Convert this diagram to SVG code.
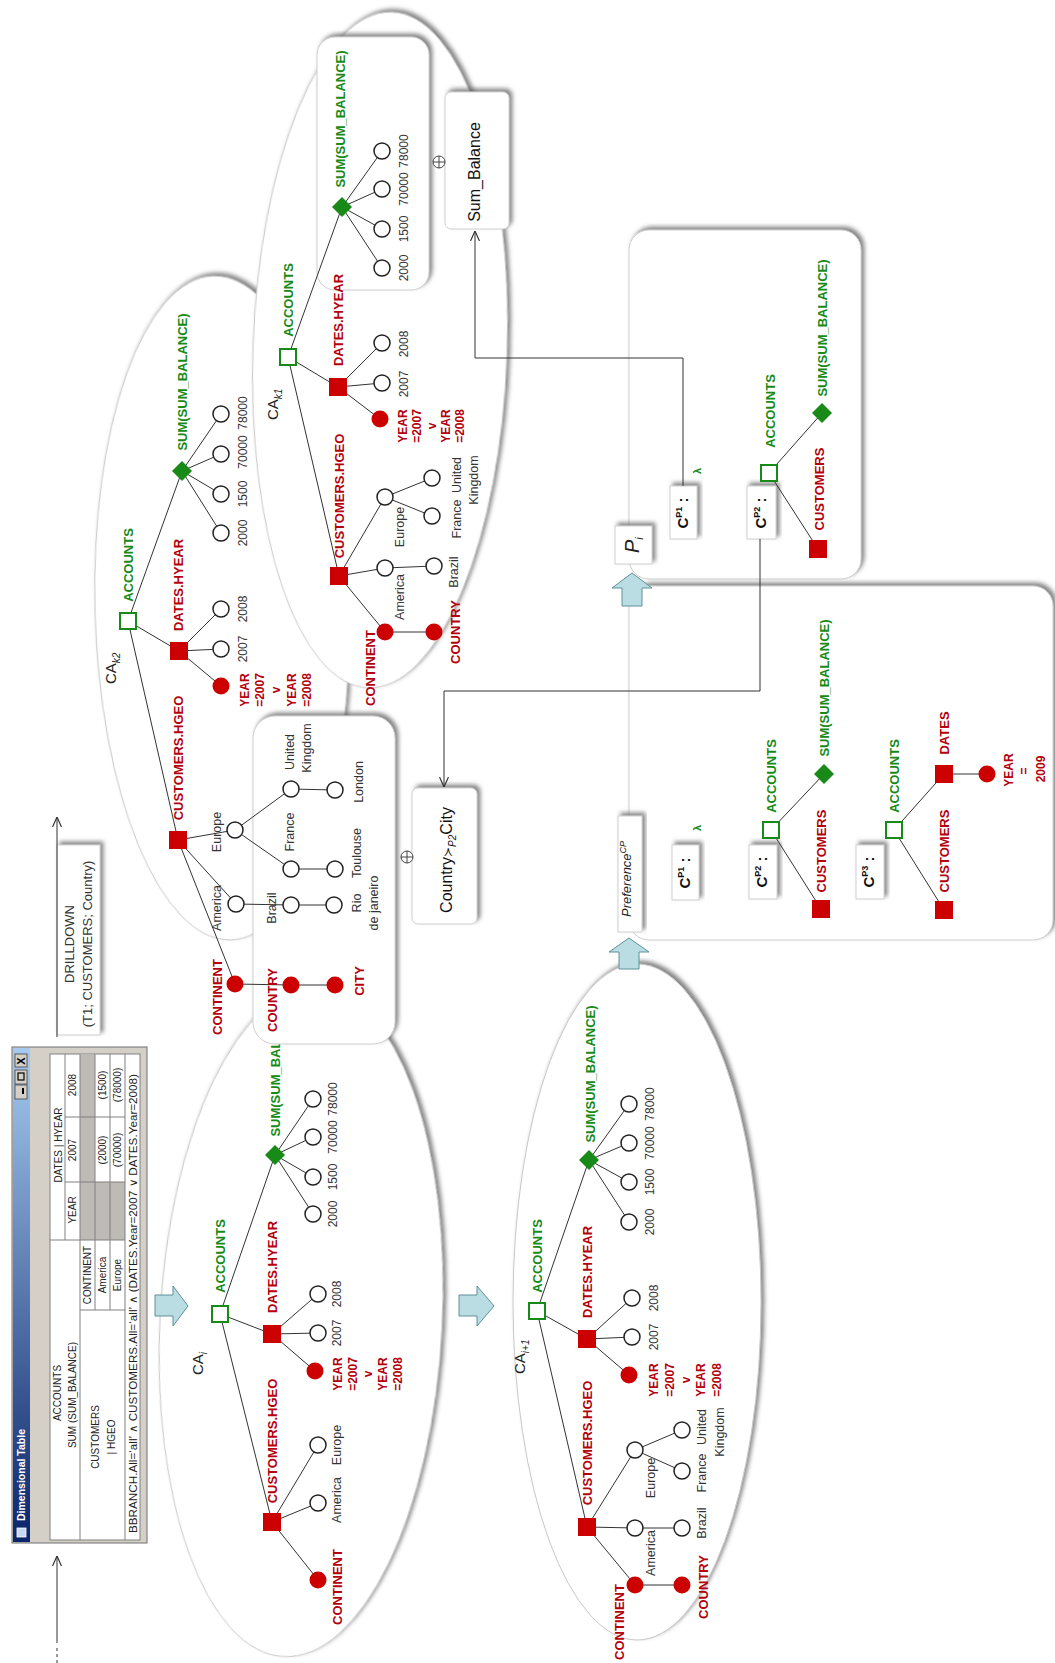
<svg xmlns="http://www.w3.org/2000/svg" width="1055" height="1663" viewBox="0 0 1055 1663">
<defs>
<style>
text{font-family:"Liberation Sans",Arial,sans-serif}
.b{font-weight:bold;font-size:13px;text-anchor:middle}
.g{fill:#178a17}
.r{fill:#b3000c}
.v{font-size:12px;fill:#333;text-anchor:middle}
.p{font-size:12.5px;fill:#333;text-anchor:middle}
.y{font-weight:bold;font-size:12px;fill:#b3000c;text-anchor:middle}
.ca{font-size:15px;fill:#222}
.sb{font-size:10px;font-style:italic}
.e{stroke:#333;stroke-width:1;fill:none}
.el{fill:#fff;stroke:#c8c8c8;stroke-width:1}
.bx{fill:#fff;stroke:#cfcfcf;stroke-width:1}
.cp{font-weight:bold;font-size:15px;fill:#111;text-anchor:middle}
.cn{stroke:#333;stroke-width:1;fill:none}
.ba{fill:#b9dde2;stroke:#5f9098;stroke-width:1}
.t{font-size:10px;fill:#222;text-anchor:middle}
.tl{stroke:#808080;stroke-width:1;fill:none}
.big{font-size:16px;fill:#111;text-anchor:middle}
</style>
<filter id="sh" x="-20%" y="-20%" width="140%" height="140%">
<feGaussianBlur in="SourceAlpha" stdDeviation="2"/>
<feOffset dx="3" dy="-3" result="o"/>
<feFlood flood-color="#606060" flood-opacity="0.75"/>
<feComposite in2="o" operator="in"/>
<feMerge><feMergeNode/><feMergeNode in="SourceGraphic"/></feMerge>
</filter>
<linearGradient id="tb" gradientUnits="userSpaceOnUse" x1="0" y1="1542" x2="0" y2="1048">
<stop offset="0" stop-color="#0a246a"/><stop offset="1" stop-color="#a6caf0"/>
</linearGradient>
<marker id="ar" viewBox="0 0 10 10" refX="10" refY="5" markerWidth="10" markerHeight="10" markerUnits="userSpaceOnUse" orient="auto"><path d="M0 0.5 L10 5 L0 9.5" fill="none" stroke="#333" stroke-width="1.2"/></marker>
<rect id="sa" x="-8" y="-8" width="16" height="16" fill="#fff" stroke="#178a17" stroke-width="2"/>
<rect id="sr" x="-9" y="-9" width="18" height="18" fill="#cc0000"/>
<path id="dm" d="M0 -10 L10 0 L0 10 L-10 0Z" fill="#178a17"/>
<circle id="cw" r="8" fill="#fff" stroke="#222" stroke-width="1.5"/>
<circle id="cr" r="8.5" fill="#cc0000"/>
</defs>
<rect width="1055" height="1663" fill="#fff"/>

<!-- CA_i -->
<g id="ca-i">
<ellipse cx="301" cy="1322" rx="141" ry="335" transform="rotate(3 301 1322)" class="el" filter="url(#sh)"/>
<text class="ca" transform="translate(203,1375) rotate(-90)">CA<tspan class="sb" dy="4">i</tspan></text>
<path class="e" d="M220 1314L272 1334M220 1314L272 1522M220 1314L275 1155M272 1334L315 1371M272 1334L318 1333M272 1334L318 1294M275 1155L313 1214M275 1155L313 1177M275 1155L313 1137M275 1155L313 1099M272 1522L318 1580M272 1522L318 1503M272 1522L318 1445"/>
<use href="#sa" x="220" y="1314"/><use href="#sr" x="272" y="1334"/><use href="#sr" x="272" y="1522"/><use href="#dm" x="275" y="1155"/>
<use href="#cw" x="313" y="1214"/><use href="#cw" x="313" y="1177"/><use href="#cw" x="313" y="1137"/><use href="#cw" x="313" y="1099"/>
<use href="#cr" x="315" y="1371"/><use href="#cw" x="318" y="1333"/><use href="#cw" x="318" y="1294"/>
<use href="#cr" x="318" y="1580"/><use href="#cw" x="318" y="1503"/><use href="#cw" x="318" y="1445"/>
<text class="b g" transform="translate(225,1256) rotate(-90)">ACCOUNTS</text>
<text class="b r" transform="translate(277,1267) rotate(-90)">DATES.HYEAR</text>
<text class="b r" transform="translate(277,1441) rotate(-90)">CUSTOMERS.HGEO</text>
<text class="b g" transform="translate(280,1068) rotate(-90)">SUM(SUM_BALANCE)</text>
<text class="v" transform="translate(337,1214) rotate(-90)">2000</text>
<text class="v" transform="translate(337,1177) rotate(-90)">1500</text>
<text class="v" transform="translate(337,1137) rotate(-90)">70000</text>
<text class="v" transform="translate(337,1099) rotate(-90)">78000</text>
<text class="v" transform="translate(341,1333) rotate(-90)">2007</text>
<text class="v" transform="translate(341,1294) rotate(-90)">2008</text>
<text class="y" transform="translate(342,1374) rotate(-90)">YEAR</text>
<text class="y" transform="translate(357,1374) rotate(-90)">=2007</text>
<text class="y" transform="translate(372,1374) rotate(-90)">v</text>
<text class="y" transform="translate(387,1374) rotate(-90)">YEAR</text>
<text class="y" transform="translate(402,1374) rotate(-90)">=2008</text>
<text class="b r" transform="translate(342,1587) rotate(-90)">CONTINENT</text>
<text class="p" transform="translate(341,1500) rotate(-90)">America</text>
<text class="p" transform="translate(341,1445) rotate(-90)">Europe</text>
</g>

<!-- CA_i+1 -->
<g id="ca-i1">
<ellipse cx="637" cy="1302" rx="124" ry="338" class="el" filter="url(#sh)"/>
<text class="ca" transform="translate(525,1374) rotate(-90)">CA<tspan class="sb" dy="4">i+1</tspan></text>
<path class="e" d="M537 1311L587 1339M537 1311L587 1527M537 1311L589 1160M587 1339L629 1375M587 1339L632 1337M587 1339L632 1298M589 1160L629 1222M589 1160L629 1182M589 1160L629 1143M589 1160L629 1104M587 1527L635 1585M587 1527L635 1528M587 1527L635 1450M635 1585L682 1585M635 1528L682 1528M635 1450L682 1471M635 1450L682 1430"/>
<use href="#sa" x="537" y="1311"/><use href="#sr" x="587" y="1339"/><use href="#sr" x="587" y="1527"/><use href="#dm" x="589" y="1160"/>
<use href="#cw" x="629" y="1222"/><use href="#cw" x="629" y="1182"/><use href="#cw" x="629" y="1143"/><use href="#cw" x="629" y="1104"/>
<use href="#cr" x="629" y="1375"/><use href="#cw" x="632" y="1337"/><use href="#cw" x="632" y="1298"/>
<use href="#cr" x="635" y="1585"/><use href="#cr" x="682" y="1585"/><use href="#cw" x="635" y="1528"/><use href="#cw" x="682" y="1528"/>
<use href="#cw" x="635" y="1450"/><use href="#cw" x="682" y="1471"/><use href="#cw" x="682" y="1430"/>
<text class="b g" transform="translate(542,1256) rotate(-90)">ACCOUNTS</text>
<text class="b r" transform="translate(592,1272) rotate(-90)">DATES.HYEAR</text>
<text class="b r" transform="translate(592,1443) rotate(-90)">CUSTOMERS.HGEO</text>
<text class="b g" transform="translate(595,1074) rotate(-90)">SUM(SUM_BALANCE)</text>
<text class="v" transform="translate(654,1222) rotate(-90)">2000</text>
<text class="v" transform="translate(654,1182) rotate(-90)">1500</text>
<text class="v" transform="translate(654,1143) rotate(-90)">70000</text>
<text class="v" transform="translate(654,1104) rotate(-90)">78000</text>
<text class="v" transform="translate(658,1337) rotate(-90)">2007</text>
<text class="v" transform="translate(658,1298) rotate(-90)">2008</text>
<text class="y" transform="translate(658,1380) rotate(-90)">YEAR</text>
<text class="y" transform="translate(674,1380) rotate(-90)">=2007</text>
<text class="y" transform="translate(690,1380) rotate(-90)">v</text>
<text class="y" transform="translate(705,1380) rotate(-90)">YEAR</text>
<text class="y" transform="translate(721,1380) rotate(-90)">=2008</text>
<text class="b r" transform="translate(624,1622) rotate(-90)">CONTINENT</text>
<text class="b r" transform="translate(708,1587) rotate(-90)">COUNTRY</text>
<text class="p" transform="translate(655,1553) rotate(-90)">America</text>
<text class="p" transform="translate(655,1478) rotate(-90)">Europe</text>
<text class="p" transform="translate(706,1523) rotate(-90)">Brazil</text>
<text class="p" transform="translate(706,1473) rotate(-90)">France</text>
<text class="p" transform="translate(706,1427) rotate(-90)">United</text>
<text class="p" transform="translate(724,1432) rotate(-90)">Kingdom</text>
</g>

<!-- CA_k2 -->
<g id="ca-k2">
<ellipse cx="222" cy="608" rx="127" ry="332" transform="rotate(-1.5 222 608)" class="el" filter="url(#sh)"/>
<text class="ca" transform="translate(116,684) rotate(-90)">CA<tspan class="sb" dy="4">k2</tspan></text>
<path class="e" d="M128 621L179 651M128 621L178 840M128 621L182 471M179 651L221 686M179 651L221 649M179 651L221 609M182 471L221 533M182 471L221 494M182 471L221 454M182 471L221 414"/>
<rect id="drill-detail" x="253" y="716" width="142" height="328" rx="22" class="bx" filter="url(#sh)"/>
<path class="e" d="M178 840L235 984M178 840L236 904M178 840L235 830M235 984L291 985L335 985M236 904L291 905L334 905M235 830L291 869L335 869M235 830L291 789L335 790"/>
<use href="#sa" x="128" y="621"/><use href="#sr" x="179" y="651"/><use href="#sr" x="178" y="840"/><use href="#dm" x="182" y="471"/>
<use href="#cw" x="221" y="533"/><use href="#cw" x="221" y="494"/><use href="#cw" x="221" y="454"/><use href="#cw" x="221" y="414"/>
<use href="#cr" x="221" y="686"/><use href="#cw" x="221" y="649"/><use href="#cw" x="221" y="609"/>
<use href="#cr" x="235" y="984"/><use href="#cr" x="291" y="985"/><use href="#cr" x="335" y="985"/>
<use href="#cw" x="236" y="904"/><use href="#cw" x="291" y="905"/><use href="#cw" x="334" y="905"/>
<use href="#cw" x="235" y="830"/><use href="#cw" x="291" y="869"/><use href="#cw" x="335" y="869"/>
<use href="#cw" x="291" y="789"/><use href="#cw" x="335" y="790"/>
<text class="b g" transform="translate(133,565) rotate(-90)">ACCOUNTS</text>
<text class="b r" transform="translate(183,585) rotate(-90)">DATES.HYEAR</text>
<text class="b r" transform="translate(183,758) rotate(-90)">CUSTOMERS.HGEO</text>
<text class="b g" transform="translate(187,382) rotate(-90)">SUM(SUM_BALANCE)</text>
<text class="v" transform="translate(247,533) rotate(-90)">2000</text>
<text class="v" transform="translate(247,494) rotate(-90)">1500</text>
<text class="v" transform="translate(247,452) rotate(-90)">70000</text>
<text class="v" transform="translate(247,413) rotate(-90)">78000</text>
<text class="v" transform="translate(247,649) rotate(-90)">2007</text>
<text class="v" transform="translate(247,609) rotate(-90)">2008</text>
<text class="y" transform="translate(249,690) rotate(-90)">YEAR</text>
<text class="y" transform="translate(264,690) rotate(-90)">=2007</text>
<text class="y" transform="translate(280,690) rotate(-90)">v</text>
<text class="y" transform="translate(296,690) rotate(-90)">YEAR</text>
<text class="y" transform="translate(311,690) rotate(-90)">=2008</text>
<text class="b r" transform="translate(222,997) rotate(-90)">CONTINENT</text>
<text class="b r" transform="translate(277,1000) rotate(-90)">COUNTRY</text>
<text class="b r" transform="translate(364,981) rotate(-90)">CITY</text>
<text class="p" transform="translate(221,908) rotate(-90)">America</text>
<text class="p" transform="translate(221,832) rotate(-90)">Europe</text>
<text class="p" transform="translate(276,908) rotate(-90)">Brazil</text>
<text class="p" transform="translate(294,832) rotate(-90)">France</text>
<text class="p" transform="translate(294,752) rotate(-90)">United</text>
<text class="p" transform="translate(311,748) rotate(-90)">Kingdom</text>
<text class="p" transform="translate(363,782) rotate(-90)">London</text>
<text class="p" transform="translate(361,853) rotate(-90)">Toulouse</text>
<text class="p" transform="translate(361,903) rotate(-90)">Rio</text>
<text class="p" transform="translate(378,903) rotate(-90)">de janeiro</text>
</g>

<!-- CA_k1 -->
<g id="ca-k1">
<ellipse cx="380" cy="350" rx="127" ry="338" transform="rotate(2 380 350)" class="el" filter="url(#sh)"/>
<rect x="317" y="37" width="112" height="253" rx="18" class="bx" filter="url(#sh)"/>
<text class="ca" transform="translate(278,420) rotate(-90)">CA<tspan class="sb" dy="4">k1</tspan></text>
<path class="e" d="M288 357L338 387M288 357L339 576M288 357L342 207M338 387L380 419M338 387L382 383M338 387L382 343M342 207L382 268M342 207L382 229M342 207L382 189M342 207L382 151M339 576L385 632M339 576L385 568M339 576L385 497M385 632L434 632M385 568L434 566M385 497L432 516M385 497L432 478"/>
<use href="#sa" x="288" y="357"/><use href="#sr" x="338" y="387"/><use href="#sr" x="339" y="576"/><use href="#dm" x="342" y="207"/>
<use href="#cw" x="382" y="268"/><use href="#cw" x="382" y="229"/><use href="#cw" x="382" y="189"/><use href="#cw" x="382" y="151"/>
<use href="#cr" x="380" y="419"/><use href="#cw" x="382" y="383"/><use href="#cw" x="382" y="343"/>
<use href="#cr" x="385" y="632"/><use href="#cr" x="434" y="632"/><use href="#cw" x="385" y="568"/><use href="#cw" x="434" y="566"/>
<use href="#cw" x="385" y="497"/><use href="#cw" x="432" y="516"/><use href="#cw" x="432" y="478"/>
<text class="b g" transform="translate(293,300) rotate(-90)">ACCOUNTS</text>
<text class="b r" transform="translate(343,320) rotate(-90)">DATES.HYEAR</text>
<text class="b r" transform="translate(344,496) rotate(-90)">CUSTOMERS.HGEO</text>
<text class="b g" transform="translate(345,119) rotate(-90)">SUM(SUM_BALANCE)</text>
<text class="v" transform="translate(408,268) rotate(-90)">2000</text>
<text class="v" transform="translate(408,229) rotate(-90)">1500</text>
<text class="v" transform="translate(408,189) rotate(-90)">70000</text>
<text class="v" transform="translate(408,151) rotate(-90)">78000</text>
<text class="v" transform="translate(408,384) rotate(-90)">2007</text>
<text class="v" transform="translate(408,344) rotate(-90)">2008</text>
<text class="y" transform="translate(407,426) rotate(-90)">YEAR</text>
<text class="y" transform="translate(421,426) rotate(-90)">=2007</text>
<text class="y" transform="translate(436,426) rotate(-90)">v</text>
<text class="y" transform="translate(450,426) rotate(-90)">YEAR</text>
<text class="y" transform="translate(464,426) rotate(-90)">=2008</text>
<text class="b r" transform="translate(375,668) rotate(-90)">CONTINENT</text>
<text class="b r" transform="translate(460,632) rotate(-90)">COUNTRY</text>
<text class="p" transform="translate(404,597) rotate(-90)">America</text>
<text class="p" transform="translate(404,527) rotate(-90)">Europe</text>
<text class="p" transform="translate(458,572) rotate(-90)">Brazil</text>
<text class="p" transform="translate(461,519) rotate(-90)">France</text>
<text class="p" transform="translate(461,475) rotate(-90)">United</text>
<text class="p" transform="translate(478,480) rotate(-90)">Kingdom</text>
</g>

<!-- Sum_Balance -->
<g id="sum-balance">
<rect x="445" y="92" width="64" height="137" rx="6" class="bx" filter="url(#sh)"/>
<text class="big" transform="translate(480,172) rotate(-90)">Sum_Balance</text>
<circle cx="439" cy="162" r="6" fill="#fff" stroke="#444"/><path d="M433 162H445M439 156V168" stroke="#444"/>
</g>

<!-- Country > City -->
<g id="country-city">
<rect x="412" y="788" width="65" height="136" rx="6" class="bx" filter="url(#sh)"/>
<text class="big" transform="translate(452,860) rotate(-90)">Country<tspan font-size="12">≻</tspan><tspan font-size="10" font-style="italic" dy="4">P2</tspan><tspan dy="-4">City</tspan></text>
<circle cx="407" cy="857" r="6" fill="#fff" stroke="#444"/><path d="M401 857H413M407 851V863" stroke="#444"/>
</g>

<!-- P_i -->
<g id="p-i">
<rect x="629" y="230" width="232" height="349" rx="20" class="bx" filter="url(#sh)"/>
<rect x="615" y="526" width="37" height="38" class="bx" filter="url(#sh)"/>
<text transform="translate(639,553) rotate(-90)" font-family="Liberation Serif" font-style="italic" font-size="20" fill="#222">P<tspan font-size="11" dy="4">i</tspan></text>
<rect x="670" y="486" width="27" height="53" class="bx" filter="url(#sh)"/>
<text class="cp" transform="translate(688,513) rotate(-90)">C<tspan font-size="9" dy="-6">P1</tspan><tspan dy="6"> :</tspan></text>
<text transform="translate(701,471) rotate(-90)" font-size="11" font-weight="bold" fill="#178a17" text-anchor="middle">λ</text>
<rect x="747" y="486" width="29" height="53" class="bx" filter="url(#sh)"/>
<text class="cp" transform="translate(766,513) rotate(-90)">C<tspan font-size="9" dy="-6">P2</tspan><tspan dy="6"> :</tspan></text>
<path class="e" d="M769 473L818 549M769 473L822 413"/>
<use href="#sa" x="769" y="473"/><use href="#sr" x="818" y="549"/><use href="#dm" x="822" y="413"/>
<text class="b g" transform="translate(775,411) rotate(-90)">ACCOUNTS</text>
<text class="b r" transform="translate(824,489) rotate(-90)">CUSTOMERS</text>
<text class="b g" transform="translate(827,328) rotate(-90)">SUM(SUM_BALANCE)</text>
</g>

<!-- Preference CP -->
<g id="preference">
<rect x="629" y="586" width="424" height="354" rx="20" class="bx" filter="url(#sh)"/>
<rect x="618" y="816" width="24" height="116" class="bx" filter="url(#sh)"/>
<text transform="translate(631,917) rotate(-90)" font-size="13" font-style="italic" fill="#222">Preference<tspan font-size="9" dy="-5">CP</tspan></text>
<rect x="672" y="845" width="27" height="55" class="bx" filter="url(#sh)"/>
<text class="cp" transform="translate(690,873) rotate(-90)">C<tspan font-size="9" dy="-6">P1</tspan><tspan dy="6"> :</tspan></text>
<text transform="translate(701,828) rotate(-90)" font-size="11" font-weight="bold" fill="#178a17" text-anchor="middle">λ</text>
<rect x="749" y="845" width="28" height="54" class="bx" filter="url(#sh)"/>
<text class="cp" transform="translate(767,872) rotate(-90)">C<tspan font-size="9" dy="-6">P2</tspan><tspan dy="6"> :</tspan></text>
<path class="e" d="M771 830L821 909M771 830L824 774"/>
<use href="#sa" x="771" y="830"/><use href="#sr" x="821" y="909"/><use href="#dm" x="824" y="774"/>
<text class="b g" transform="translate(776,776) rotate(-90)">ACCOUNTS</text>
<text class="b r" transform="translate(826,851) rotate(-90)">CUSTOMERS</text>
<text class="b g" transform="translate(829,688) rotate(-90)">SUM(SUM_BALANCE)</text>
<rect x="856" y="845" width="28" height="54" class="bx" filter="url(#sh)"/>
<text class="cp" transform="translate(874,872) rotate(-90)">C<tspan font-size="9" dy="-6">P3</tspan><tspan dy="6"> :</tspan></text>
<path class="e" d="M894 830L944 910M894 830L944 774M944 774L987 774"/>
<use href="#sa" x="894" y="830"/><use href="#sr" x="944" y="910"/><use href="#sr" x="944" y="774"/><use href="#cr" x="987" y="774"/>
<text class="b g" transform="translate(899,776) rotate(-90)">ACCOUNTS</text>
<text class="b r" transform="translate(949,851) rotate(-90)">CUSTOMERS</text>
<text class="b r" transform="translate(949,733) rotate(-90)">DATES</text>
<text class="y" transform="translate(1013,770) rotate(-90)">YEAR</text>
<text class="y" transform="translate(1028,771) rotate(-90)">=</text>
<text class="y" transform="translate(1045,769) rotate(-90)">2009</text>
</g>

<!-- Dimensional Table window -->
<g id="dimensional-table">
<rect x="12" y="1047" width="135" height="496" fill="#d4d0c8" stroke="#707070"/>
<rect x="13" y="1048" width="17" height="494" fill="url(#tb)"/>
<rect x="17" y="1528" width="9" height="9" fill="#c8d8f0" stroke="#fff" stroke-width="0.8"/>
<text transform="translate(25,1521) rotate(-90)" font-size="10.5" font-weight="bold" fill="#fff">Dimensional Table</text>
<rect x="15" y="1054" width="12" height="13" fill="#d4d0c8" stroke="#404040" stroke-width="0.8"/>
<rect x="15" y="1070" width="12" height="14" fill="#d4d0c8" stroke="#404040" stroke-width="0.8"/>
<rect x="15" y="1085" width="12" height="14" fill="#d4d0c8" stroke="#404040" stroke-width="0.8"/>
<text transform="translate(25,1061) rotate(-90)" font-size="11" font-weight="bold" fill="#000" text-anchor="middle">X</text>
<rect x="18" y="1073" width="6" height="7" fill="none" stroke="#000" stroke-width="1.2"/>
<path d="M23 1088V1094" stroke="#000" stroke-width="2"/>
<rect x="50" y="1054" width="90" height="486" fill="#fff" stroke="#808080"/>
<rect x="80" y="1054" width="15" height="186" fill="#bebab6"/>
<rect x="95" y="1182" width="30" height="58" fill="#bebab6"/>
<path class="tl" d="M65 1054V1240M80 1054V1540M95 1054V1310M110 1054V1310M125 1054V1540M65 1117H125M65 1182H125M50 1240H125M80 1310H125"/>
<text class="t" transform="translate(62,1145) rotate(-90)">DATES | HYEAR</text>
<text class="t" transform="translate(76,1210) rotate(-90)">YEAR</text>
<text class="t" transform="translate(76,1150) rotate(-90)">2007</text>
<text class="t" transform="translate(76,1085) rotate(-90)">2008</text>
<text class="t" transform="translate(61,1393) rotate(-90)">ACCOUNTS</text>
<text class="t" transform="translate(76,1395) rotate(-90)">SUM (SUM_BALANCE)</text>
<text class="t" transform="translate(99,1437) rotate(-90)">CUSTOMERS</text>
<text class="t" transform="translate(115,1437) rotate(-90)">| HGEO</text>
<text class="t" transform="translate(91,1275) rotate(-90)">CONTINENT</text>
<text class="t" transform="translate(106,1275) rotate(-90)">America</text>
<text class="t" transform="translate(121,1275) rotate(-90)">Europe</text>
<text class="t" transform="translate(106,1150) rotate(-90)">(2000)</text>
<text class="t" transform="translate(106,1085) rotate(-90)">(1500)</text>
<text class="t" transform="translate(121,1150) rotate(-90)">(70000)</text>
<text class="t" transform="translate(121,1085) rotate(-90)">(78000)</text>
<text transform="translate(137,1533) rotate(-90)" font-size="11" fill="#222" textLength="459" lengthAdjust="spacingAndGlyphs">BBRANCH.All=‘all’ ∧ CUSTOMERS.All=‘all’ ∧ (DATES.Year=2007 ∨ DATES.Year=2008)</text>
</g>

<!-- DRILLDOWN label -->
<g id="drilldown">
<rect x="57" y="845" width="43" height="190" class="bx" stroke="none" filter="url(#sh)"/>
<text class="p" fill="#444" style="font-size:13px" transform="translate(74,944) rotate(-90)">DRILLDOWN</text>
<text class="p" fill="#444" style="font-size:13px" transform="translate(92,944) rotate(-90)">(T1; CUSTOMERS; Country)</text>
</g>

<!-- connectors -->
<g id="connectors">
<path class="cn" d="M683 486V358H475V231" marker-end="url(#ar)"/>
<path class="cn" d="M760 539V691H444V787" marker-end="url(#ar)"/>
<path class="cn" d="M57 1037V817" marker-end="url(#ar)"/>
<path class="cn" d="M57 1643V1556" marker-end="url(#ar)"/>
<path class="cn" d="M57 1663V1645" stroke-dasharray="3 3"/>
<polygon class="ba" points="155,1295 173,1295 173,1286 188,1306 173,1326 173,1316 155,1316"/>
<polygon class="ba" points="459,1295 477,1295 477,1286 494,1306 477,1326 477,1316 459,1316"/>
<polygon class="ba" points="619,969 619,952 609,952 629,938 649,952 639,952 639,969"/>
<polygon class="ba" points="622,606 622,588 612,588 632,573 652,588 642,588 642,606"/>
</g>
</svg>
